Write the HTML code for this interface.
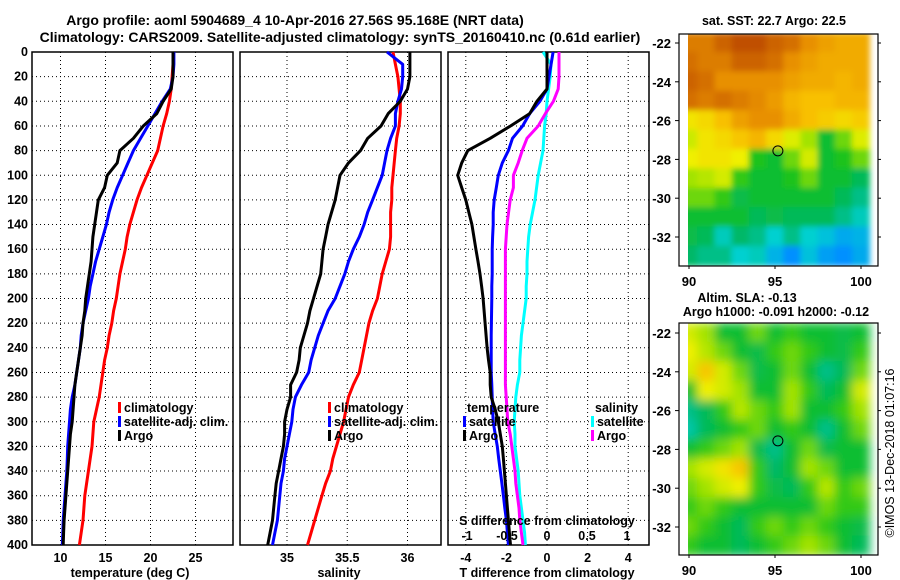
<!DOCTYPE html>
<html><head><meta charset="utf-8"><style>
body{margin:0;background:#fff;width:900px;height:580px;overflow:hidden}
svg{display:block}
text{font-family:"Liberation Sans",sans-serif;font-weight:bold;font-size:12.5px;fill:#000}
</style></head><body>
<svg id="c" width="900" height="580">
<text x="295" y="25" text-anchor="middle" style="font-size:14px">Argo profile: aoml 5904689_4 10-Apr-2016 27.56S 95.168E (NRT data)</text>
<text x="340" y="42" text-anchor="middle" style="font-size:14px">Climatology: CARS2009. Satellite-adjusted climatology: synTS_20160410.nc (0.61d earlier)</text>
</svg>
<script>
// ---- profile data (depth step 10 m, 0..400) ----
const depths=[0,10,20,30,40,50,60,70,80,90,100,110,120,130,140,150,160,170,180,190,200,210,220,230,240,250,260,270,280,290,300,310,320,330,340,350,360,370,380,390,400];
const tClim=[22.5,22.5,22.4,22.3,22.1,21.8,21.4,21.1,20.8,20.2,19.6,19.0,18.5,18.1,17.7,17.4,17.2,16.9,16.6,16.4,16.2,15.9,15.7,15.4,15.2,14.9,14.7,14.5,14.3,14.0,13.7,13.6,13.5,13.3,13.1,12.9,12.7,12.6,12.5,12.3,12.1];
const tSat=[22.6,22.6,22.5,22.2,21.3,20.5,19.7,18.9,18.1,17.5,16.9,16.3,15.8,15.4,15.1,14.7,14.3,13.9,13.6,13.3,13.1,12.8,12.5,12.3,12.2,12.0,11.8,11.6,11.3,11.1,11.0,10.9,10.8,10.75,10.7,10.6,10.5,10.4,10.3,10.25,10.2];
const tArgo=[22.5,22.5,22.5,22.3,21.4,20.7,19.2,18.1,16.6,16.3,15.2,14.9,14.2,14.0,13.8,13.6,13.5,13.4,13.2,13.0,12.8,12.7,12.5,12.4,12.2,12.0,11.8,11.6,11.5,11.4,11.3,11.1,11.0,10.9,10.8,10.7,10.6,10.5,10.4,10.35,10.3];
const sClim=[35.88,35.9,35.92,35.93,35.94,35.94,35.93,35.91,35.9,35.89,35.88,35.87,35.87,35.86,35.86,35.86,35.85,35.82,35.79,35.77,35.75,35.71,35.68,35.66,35.64,35.62,35.6,35.55,35.51,35.49,35.47,35.44,35.41,35.38,35.36,35.32,35.29,35.26,35.23,35.2,35.17];
const sSat=[35.83,35.96,35.96,35.95,35.92,35.9,35.9,35.86,35.83,35.81,35.79,35.75,35.71,35.67,35.64,35.6,35.55,35.51,35.48,35.44,35.4,35.34,35.3,35.26,35.23,35.2,35.18,35.12,35.07,35.05,35.04,35.02,35.0,34.98,34.97,34.95,34.94,34.93,34.92,34.9,34.88];
const sArgo=[36.02,36.02,36.02,36.0,35.94,35.84,35.78,35.67,35.61,35.51,35.44,35.42,35.4,35.37,35.34,35.32,35.3,35.29,35.28,35.25,35.22,35.19,35.17,35.14,35.11,35.1,35.08,35.03,35.03,35.0,34.98,34.98,34.97,34.95,34.93,34.91,34.9,34.89,34.88,34.86,34.84];
const dtSat=[0.3,0.2,0.1,0.0,-0.35,-0.85,-1.2,-1.7,-1.9,-2.2,-2.4,-2.5,-2.6,-2.65,-2.65,-2.68,-2.7,-2.7,-2.7,-2.72,-2.72,-2.73,-2.74,-2.75,-2.75,-2.75,-2.75,-2.72,-2.7,-2.68,-2.65,-2.55,-2.45,-2.38,-2.3,-2.22,-2.15,-2.08,-2.0,-1.95,-1.9];
const dtArgo=[0,0,0,0,-0.5,-0.85,-1.8,-2.8,-3.9,-4.2,-4.4,-4.2,-4.0,-3.85,-3.7,-3.6,-3.5,-3.4,-3.3,-3.22,-3.15,-3.1,-3.05,-3.0,-2.95,-2.88,-2.8,-2.8,-2.75,-2.55,-2.4,-2.3,-2.2,-2.15,-2.1,-2.05,-2.0,-1.95,-1.9,-1.85,-1.8];
const dsSat=[-0.05,0.05,0.04,0.02,0,-0.01,-0.03,-0.04,-0.05,-0.08,-0.11,-0.13,-0.15,-0.18,-0.21,-0.23,-0.24,-0.25,-0.25,-0.26,-0.26,-0.28,-0.3,-0.32,-0.33,-0.34,-0.34,-0.37,-0.39,-0.4,-0.41,-0.4,-0.4,-0.38,-0.36,-0.35,-0.34,-0.32,-0.3,-0.28,-0.27];
const dsArgo=[0.15,0.15,0.15,0.14,0.08,-0.02,-0.11,-0.25,-0.31,-0.36,-0.42,-0.42,-0.46,-0.48,-0.5,-0.51,-0.52,-0.52,-0.52,-0.52,-0.52,-0.52,-0.52,-0.52,-0.52,-0.52,-0.52,-0.52,-0.51,-0.5,-0.49,-0.46,-0.44,-0.42,-0.4,-0.39,-0.37,-0.35,-0.34,-0.32,-0.3];
const depthTicks=[0,20,40,60,80,100,120,140,160,180,200,220,240,260,280,300,320,340,360,380,400];
const tTicks=[10,15,20,25], sTicks=[35,35.5,36], dtTicks=[-4,-2,0,2,4], dsTicks=[-1,-0.5,0,0.5,1];
const latTicks=[-22,-24,-26,-28,-30,-32], lonTicks=[90,95,100];
const sstGrid=[
[0.88,0.88,0.92,0.95,0.95,0.92,0.9,0.85,0.82,0.8,0.8],
[0.9,0.88,0.88,0.92,0.92,0.9,0.85,0.82,0.8,0.8,0.8],
[0.92,0.9,0.85,0.85,0.85,0.85,0.82,0.8,0.8,0.78,0.8],
[0.9,0.88,0.9,0.88,0.86,0.83,0.78,0.76,0.76,0.78,0.78],
[0.7,0.72,0.76,0.82,0.85,0.85,0.8,0.76,0.74,0.72,0.74],
[0.64,0.7,0.72,0.75,0.78,0.72,0.66,0.6,0.45,0.55,0.66],
[0.68,0.7,0.7,0.68,0.48,0.45,0.55,0.65,0.45,0.48,0.55],
[0.6,0.62,0.65,0.5,0.45,0.45,0.48,0.55,0.45,0.45,0.4],
[0.55,0.55,0.5,0.42,0.45,0.45,0.45,0.45,0.45,0.4,0.35],
[0.45,0.45,0.45,0.45,0.4,0.42,0.4,0.4,0.4,0.35,0.3],
[0.42,0.4,0.3,0.38,0.35,0.28,0.35,0.28,0.25,0.2,0.22],
[0.38,0.35,0.35,0.28,0.3,0.22,0.15,0.25,0.18,0.15,0.2]];
const slaGrid=[
[0.65,0.6,0.45,0.45,0.55,0.45,0.5,0.45,0.45,0.42,0.45],
[0.68,0.62,0.55,0.45,0.42,0.5,0.55,0.5,0.45,0.42,0.5],
[0.65,0.75,0.65,0.55,0.42,0.45,0.55,0.45,0.35,0.4,0.55],
[0.45,0.68,0.65,0.6,0.45,0.45,0.6,0.5,0.4,0.45,0.65],
[0.35,0.4,0.5,0.62,0.55,0.5,0.6,0.45,0.45,0.5,0.6],
[0.32,0.4,0.45,0.5,0.55,0.45,0.5,0.45,0.35,0.45,0.55],
[0.45,0.5,0.55,0.6,0.42,0.35,0.45,0.55,0.42,0.45,0.45],
[0.6,0.65,0.7,0.75,0.5,0.38,0.45,0.6,0.55,0.45,0.45],
[0.55,0.6,0.65,0.68,0.5,0.42,0.4,0.5,0.62,0.5,0.55],
[0.5,0.55,0.5,0.45,0.45,0.45,0.45,0.45,0.55,0.5,0.5],
[0.55,0.5,0.45,0.4,0.5,0.55,0.5,0.55,0.5,0.45,0.42],
[0.5,0.45,0.45,0.4,0.45,0.5,0.55,0.6,0.55,0.45,0.4]];
const argoLon=95.168, argoLat=-27.56;

const svg=document.getElementById('c');const NS='http://www.w3.org/2000/svg';
function mk(tag,a,p){const e=document.createElementNS(NS,tag);for(const k in a)e.setAttribute(k,a[k]);(p||svg).appendChild(e);return e;}
function txt(x,y,s,anchor,p){const t=mk('text',{x:x,y:y,'text-anchor':anchor||'start'},p);t.textContent=s;return t;}
const PT=52,PB=545;
const yD=d=>PT+(d/400)*(PB-PT);
const xT=v=>60.5+(v-10)*9;
const xS=v=>287+(v-35)*120.5;
const xDT=v=>547+v*20.3;
const xDS=v=>547+v*80;
const panels=[{x0:32,x1:233,name:'temperature-panel'},{x0:240,x1:441,name:'salinity-panel'},{x0:448,x1:649,name:'difference-panel'}];
function grid(p,xs,fx){
  const g=mk('g',{});
  
  
  depthTicks.forEach(d=>{mk('line',{x1:p.x0,x2:p.x1,y1:yD(d),y2:yD(d),stroke:'#000','stroke-dasharray':'1,3'},g);});
  xs.forEach(v=>{mk('line',{x1:fx(v),x2:fx(v),y1:PT,y2:PB,stroke:'#000','stroke-dasharray':'1,3'},g);});
}
grid(panels[0],tTicks,xT);grid(panels[1],sTicks,xS);grid(panels[2],dtTicks,xDT);
panels.forEach(p=>{const r=mk('rect',{x:p.x0,y:PT,width:p.x1-p.x0,height:PB-PT,fill:'none',stroke:'#000','stroke-width':1.5});

});
depthTicks.forEach(d=>{const t=txt(28,yD(d)+4,String(d),'end');

});
function line(vals,fx,color,name){const pts=[];vals.forEach((v,i)=>pts.push(fx(v).toFixed(1)+','+yD(depths[i]).toFixed(1)));
const l=mk('polyline',{points:pts.join(' '),fill:'none',stroke:color,'stroke-width':3,'stroke-linejoin':'round'});

}
line(tClim,xT,'#f00','temp-climatology-line');line(tSat,xT,'#00f','temp-satellite-line');line(tArgo,xT,'#000','temp-argo-line');
line(sClim,xS,'#f00','sal-climatology-line');line(sSat,xS,'#00f','sal-satellite-line');line(sArgo,xS,'#000','sal-argo-line');
line(dsSat,xDS,'#0ff','sdiff-satellite-line');line(dsArgo,xDS,'#f0f','sdiff-argo-line');
line(dtSat,xDT,'#00f','tdiff-satellite-line');line(dtArgo,xDT,'#000','tdiff-argo-line');
tTicks.forEach(v=>{const t=txt(xT(v),562,String(v),'middle');});
sTicks.forEach(v=>{const t=txt(xS(v),562,String(v),'middle');});
dtTicks.forEach(v=>{const t=txt(xDT(v),562,String(v),'middle');});
dsTicks.forEach(v=>{const t=txt(xDS(v),540,String(v),'middle');});
let t;
t=txt(130,577,'temperature (deg C)','middle');
t=txt(339,577,'salinity','middle');
t=txt(547,577,'T difference from climatology','middle');
t=txt(547,525,'S difference from climatology','middle');
function leg(x,y,c,s){mk('rect',{x:x,y:y-10,width:3,height:11,fill:c});const e=txt(x+6,y,s);

}
[[118,'#f00','climatology'],[118,'#00f','satellite-adj. clim.'],[118,'#000','Argo']].forEach((l,i)=>leg(l[0],412+i*14,l[1],l[2]));
[[328,'#f00','climatology'],[328,'#00f','satellite-adj. clim.'],[328,'#000','Argo']].forEach((l,i)=>leg(l[0],412+i*14,l[1],l[2]));
t=txt(467,412,'temperature');
t=txt(595,412,'salinity');
leg(463,426,'#00f','satellite');leg(463,440,'#000','Argo');leg(591,426,'#0ff','satellite');leg(591,440,'#f0f','Argo');

// ---- maps ----
const stops=[[0,[0,48,192]],[0.15,[0,144,255]],[0.28,[0,208,208]],[0.38,[0,184,104]],[0.47,[16,192,32]],[0.58,[144,224,0]],[0.68,[240,240,0]],[0.76,[248,192,0]],[0.85,[232,144,0]],[0.95,[192,80,0]],[1,[176,60,0]]];
function cmap(v){for(let i=1;i<stops.length;i++){if(v<=stops[i][0]){const a=stops[i-1],b=stops[i];const f=(v-a[0])/(b[0]-a[0]);const c=a[1].map((q,k)=>Math.round(q+(b[1][k]-q)*f));return 'rgb('+c+')';}}return 'rgb(176,60,0)';}
const defs=mk('defs',{});
const f1=mk('filter',{id:'bl3',x:'-10%',y:'-10%',width:'120%',height:'120%'},defs);mk('feGaussianBlur',{stdDeviation:3},f1);
const f2=mk('filter',{id:'bl5',x:'-10%',y:'-10%',width:'120%',height:'120%'},defs);mk('feGaussianBlur',{stdDeviation:5},f2);
function map(gridv,top,lat0y,name,filt){
  const fx0=679,fx1=878,imgX=688,fy0=top,fy1=top+232;
  const xL=v=>689+(v-90)*17.2, yL=v=>lat0y+(-22-v)*19.4;
  const cp=mk('clipPath',{id:'cp'+name},defs);mk('rect',{x:imgX,y:fy0,width:fx1-imgX,height:fy1-fy0},cp);
  const g=mk('g',{'clip-path':'url(#cp'+name+')'});
  
  
  const gi=mk('g',{filter:'url(#'+filt+')'},g);
  gridv.forEach((row,r)=>row.forEach((v,c)=>{mk('rect',{x:xL(90+c)-9,y:yL(-22-r)-10.5,width:18,height:20.5,fill:cmap(v)},gi);}));
  const fr=mk('rect',{x:fx0,y:fy0,width:fx1-fx0,height:fy1-fy0,fill:'none',stroke:'#000','stroke-width':1.2});
  
  latTicks.forEach(v=>{mk('line',{x1:fx0-4,x2:fx0,y1:yL(v),y2:yL(v),stroke:'#000'});mk('line',{x1:fx1,x2:fx1+3,y1:yL(v),y2:yL(v),stroke:'#000'});
    const e=txt(671,yL(v)+5,String(v),'end');e.style.fontSize='13px';});
  lonTicks.forEach(v=>{mk('line',{x1:xL(v),x2:xL(v),y1:fy1,y2:fy1+3,stroke:'#000'});
    const e=txt(xL(v),fy1+20,String(v),'middle');e.style.fontSize='13px';});
  const m=mk('circle',{cx:xL(argoLon),cy:yL(argoLat),r:5,fill:'none',stroke:'#000','stroke-width':1});
  
}
map(sstGrid,34,43,'sst-map','bl3');
map(slaGrid,323,333,'sla-map','bl5');
t=txt(774,25,'sat. SST: 22.7 Argo: 22.5','middle');
t=txt(747,302,'Altim. SLA: -0.13','middle');
t=txt(776,316,'Argo h1000: -0.091 h2000: -0.12','middle');
t=txt(0,0,'©IMOS 13-Dec-2018 01:07:16','middle');t.setAttribute('transform','translate(894,453) rotate(-90)');t.style.fontWeight='normal';

</script>
</body></html>
